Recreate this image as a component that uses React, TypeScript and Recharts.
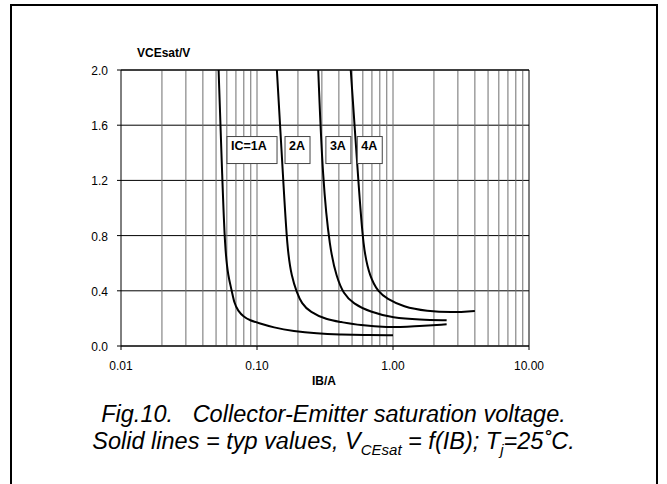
import React from "react";
import {
  LineChart,
  Line,
  XAxis,
  YAxis,
  CartesianGrid,
  ReferenceLine,
  ReferenceDot,
} from "recharts";

// IB (A) vs VCEsat (V)
const ic1X = [0.0522, 0.0556, 0.0582, 0.0615, 0.0652, 0.068, 0.0725, 0.08, 0.0889, 0.102, 0.132, 0.185, 0.275, 0.408, 0.6, 1.0];
const ic1Y = [2.0, 1.2, 0.694, 0.5, 0.404, 0.31, 0.255, 0.21, 0.186, 0.167, 0.134, 0.107, 0.09, 0.083, 0.08, 0.078];

const ic2X = [0.14, 0.156, 0.167, 0.18, 0.196, 0.213, 0.245, 0.326, 0.408, 0.572, 0.899, 1.41, 2.48];
const ic2Y = [2.0, 1.2, 0.694, 0.5, 0.39, 0.307, 0.247, 0.19, 0.175, 0.15, 0.133, 0.143, 0.157];

const ic3X = [0.282, 0.304, 0.344, 0.385, 0.431, 0.51, 0.677, 1.0, 1.58, 2.48];
const ic3Y = [2.0, 1.2, 0.694, 0.5, 0.38, 0.307, 0.247, 0.203, 0.191, 0.186];

const ic4X = [0.489, 0.556, 0.605, 0.677, 0.78, 0.899, 1.19, 1.77, 2.77, 4.0];
const ic4Y = [2.0, 1.2, 0.694, 0.5, 0.39, 0.344, 0.283, 0.252, 0.242, 0.254];

const xTicks = [0.01, 0.1, 1, 10];
const yTicks = [0, 0.4, 0.8, 1.2, 1.6, 2.0];
const xGrid = [
  0.02, 0.03, 0.04, 0.05, 0.06, 0.07, 0.08, 0.09, 0.1,
  0.2, 0.3, 0.4, 0.5, 0.6, 0.7, 0.8, 0.9, 1,
  2, 3, 4, 5, 6, 7, 8, 9,
];

const curveLabels = ["IC=1A", "2A", "3A", "4A"];
const labelX = [0.0602, 0.1607, 0.321, 0.546];
const labelY = [1.42, 1.42, 1.42, 1.42];

const FONT = "'Liberation Sans', Arial, Helvetica, sans-serif";

const zip = (xs: number[], ys: number[]) => xs.map((x, i) => ({ x, y: ys[i] }));
const series = [zip(ic1X, ic1Y), zip(ic2X, ic2Y), zip(ic3X, ic3Y), zip(ic4X, ic4Y)];

const LabelBox = (text: string) => (props: any) => {
  const { cx, cy } = props;
  const w = text.length > 2 ? 50 : 25;
  return (
    <g>
      <rect x={cx} y={cy - 13.5} width={w} height={27} fill="#fff" stroke="#444" strokeWidth={1} />
      <text x={cx + 4} y={cy} fontFamily={FONT} fontSize={12.5} fontWeight="bold" fill="#000">
        {text}
      </text>
    </g>
  );
};

const XTick = (props: any) => {
  const { x, y, payload } = props;
  return (
    <text x={x} y={y + 18} textAnchor="middle" fontFamily={FONT} fontSize={12} fill="#000">
      {Number(payload.value).toFixed(2)}
    </text>
  );
};

const YTick = (props: any) => {
  const { x, y, payload } = props;
  return (
    <text x={x - 7} y={y + 5} textAnchor="end" fontFamily={FONT} fontSize={12} fill="#000">
      {Number(payload.value).toFixed(1)}
    </text>
  );
};

export default function App() {
  return (
    <div
      style={{
        position: "absolute",
        left: 0,
        top: 0,
        width: 667,
        height: 484,
        background: "#fff",
        overflow: "hidden",
        fontFamily: FONT,
      }}
    >
      <div
        style={{
          position: "absolute",
          left: 10,
          top: 4,
          width: 644,
          height: 500,
          border: "2px solid #000",
        }}
      />
      <div
        style={{
          position: "absolute",
          left: 137,
          top: 46,
          fontSize: 12,
          fontWeight: "bold",
        }}
      >
        VCEsat/V
      </div>
      <div style={{ position: "absolute", left: 0, top: 0 }}>
        <LineChart
          width={667}
          height={400}
          margin={{ top: 70, right: 138, bottom: 24, left: 81 }}
        >
          <CartesianGrid vertical={false} stroke="#000" strokeWidth={1} />
          {xGrid.map((v) => (
            <ReferenceLine key={v} x={v} stroke="#6e6e6e" strokeWidth={1} />
          ))}
          <ReferenceLine x={10} stroke="#000" strokeWidth={1} />
          <ReferenceLine y={2} stroke="#000" strokeWidth={1} />
          <XAxis
            type="number"
            dataKey="x"
            scale="log"
            domain={[0.01, 10]}
            ticks={xTicks}
            allowDataOverflow
            tick={<XTick />}
            tickSize={4}
            stroke="#000"
            height={30}
          />
          <YAxis
            type="number"
            domain={[0, 2]}
            ticks={yTicks}
            allowDataOverflow
            tick={<YTick />}
            tickSize={4}
            stroke="#000"
            width={40}
          />
          {series.map((d, i) => (
            <Line
              key={i}
              data={d}
              dataKey="y"
              type="basis"
              stroke="#000"
              strokeWidth={2}
              dot={false}
              isAnimationActive={false}
            />
          ))}
          {curveLabels.map((t, i) => (
            <ReferenceDot
              key={t}
              x={labelX[i]}
              y={labelY[i]}
              shape={LabelBox(t)}
            />
          ))}
        </LineChart>
      </div>
      <div
        style={{
          position: "absolute",
          left: 312,
          top: 374,
          fontSize: 12,
          fontWeight: "bold",
        }}
      >
        IB/A
      </div>
      <div
        style={{
          position: "absolute",
          left: 0,
          top: 401,
          width: 667,
          textAlign: "center",
          fontSize: 23.5,
          fontStyle: "italic",
          lineHeight: "27px",
        }}
      >
        <div style={{ whiteSpace: "pre" }}>Fig.10.   Collector-Emitter saturation voltage.</div>
        <div>
          Solid lines = typ values, V<sub style={{ fontSize: 15, lineHeight: 0 }}>CEsat</sub> = f(IB); T
          <sub style={{ fontSize: 15, lineHeight: 0 }}>j</sub>=25˚C.
        </div>
      </div>
    </div>
  );
}
